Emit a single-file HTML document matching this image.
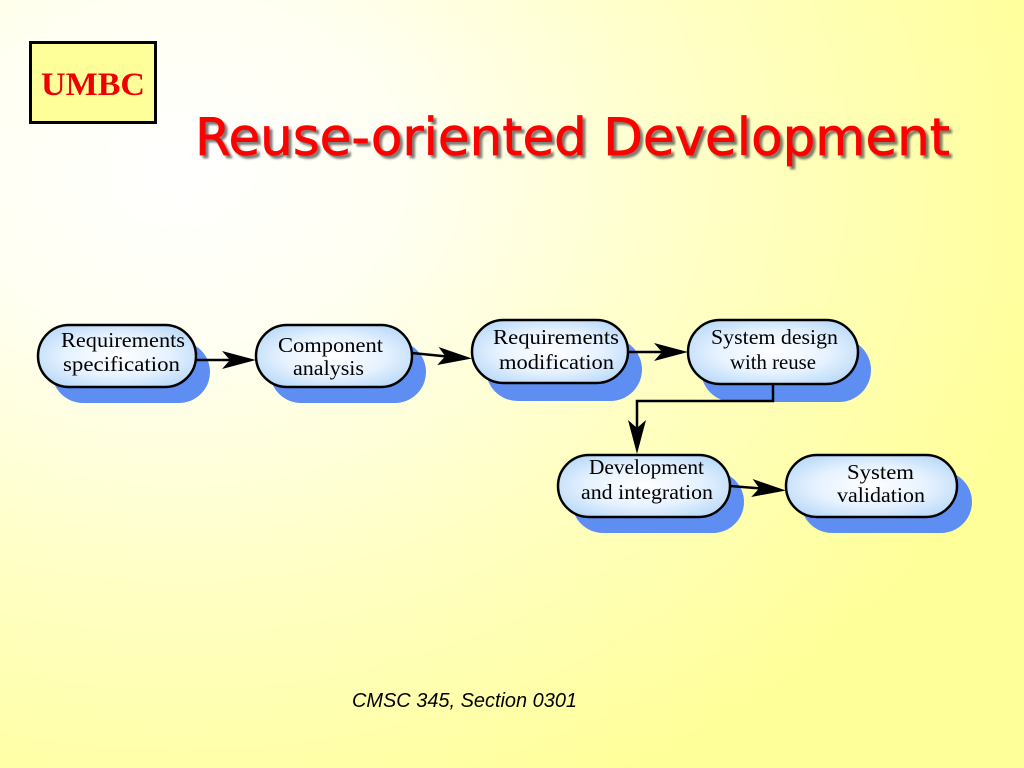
<!DOCTYPE html>
<html>
<head>
<meta charset="utf-8">
<style>
  html, body { margin:0; padding:0; }
  body { width:1024px; height:768px; overflow:hidden;
    background: radial-gradient(ellipse 900px 700px at 180px 170px, #ffffff 0%, #fffff2 25%, #ffffc4 60%, #ffff99 100%);
  }
  svg { position:absolute; left:0; top:0; }
</style>
</head>
<body>
<svg width="1024" height="768" viewBox="0 0 1024 768" xmlns="http://www.w3.org/2000/svg">
  <defs>
    <radialGradient id="nf" cx="50%" cy="50%" r="60%">
      <stop offset="0" stop-color="#ffffff"/>
      <stop offset="0.55" stop-color="#e6f2ff"/>
      <stop offset="1" stop-color="#b9d9f8"/>
    </radialGradient>
    <filter id="ts" x="-5%" y="-20%" width="110%" height="140%">
      <feGaussianBlur stdDeviation="1"/>
    </filter>
  </defs>

  <!-- UMBC box -->
  <rect x="30.5" y="42.5" width="125" height="80" fill="#ffff99" stroke="#000" stroke-width="3"/>
  <text x="41" y="95" font-family="'Liberation Serif', serif" font-weight="bold" font-size="33" fill="#ee0000" textLength="104" lengthAdjust="spacingAndGlyphs">UMBC</text>

  <!-- Title -->
  <text x="198" y="158" font-family="'DejaVu Sans', sans-serif" font-size="52" fill="#444" stroke="#444" stroke-width="0.7" opacity="0.7" filter="url(#ts)" textLength="755" lengthAdjust="spacingAndGlyphs">Reuse-oriented Development</text>
  <text x="195" y="155" font-family="'DejaVu Sans', sans-serif" font-size="52" fill="#ff0000" stroke="#ff0000" stroke-width="0.7" textLength="755" lengthAdjust="spacingAndGlyphs">Reuse-oriented Development</text>

  <!-- Shadows -->
  <g fill="#5f8ef2">
    <rect x="52" y="341" width="158" height="62" rx="31"/>
    <rect x="270" y="341" width="156" height="62" rx="31"/>
    <rect x="486" y="338" width="156" height="63" rx="31.5"/>
    <rect x="701" y="338" width="170" height="64" rx="32"/>
    <rect x="572" y="471" width="172" height="62" rx="31"/>
    <rect x="801" y="471" width="171" height="62" rx="31"/>
  </g>

  <!-- Nodes -->
  <g fill="url(#nf)" stroke="#000" stroke-width="2.5">
    <rect x="38" y="325" width="158" height="62" rx="31"/>
    <rect x="256" y="325" width="156" height="62" rx="31"/>
    <rect x="472" y="320" width="156" height="63" rx="31.5"/>
    <rect x="688" y="320" width="170" height="64" rx="32"/>
    <rect x="558" y="455" width="172" height="62" rx="31"/>
    <rect x="786" y="455" width="171" height="62" rx="31"/>
  </g>

  <!-- Node labels -->
  <g font-family="'Liberation Serif', serif" font-size="21" fill="#000">
    <text x="61" y="347" textLength="124" lengthAdjust="spacingAndGlyphs">Requirements</text>
    <text x="63" y="371" textLength="117" lengthAdjust="spacingAndGlyphs">specification</text>

    <text x="278" y="352" textLength="105" lengthAdjust="spacingAndGlyphs">Component</text>
    <text x="293" y="375" textLength="71" lengthAdjust="spacingAndGlyphs">analysis</text>

    <text x="493" y="344" textLength="126" lengthAdjust="spacingAndGlyphs">Requirements</text>
    <text x="499" y="369" textLength="115" lengthAdjust="spacingAndGlyphs">modification</text>

    <text x="711" y="344" textLength="127" lengthAdjust="spacingAndGlyphs">System design</text>
    <text x="730" y="369" textLength="86" lengthAdjust="spacingAndGlyphs">with reuse</text>

    <text x="589" y="474" textLength="115" lengthAdjust="spacingAndGlyphs">Development</text>
    <text x="581" y="499" textLength="132" lengthAdjust="spacingAndGlyphs">and integration</text>

    <text x="847" y="479" textLength="67" lengthAdjust="spacingAndGlyphs">System</text>
    <text x="837" y="502" textLength="88" lengthAdjust="spacingAndGlyphs">validation</text>
  </g>

  <!-- Connectors -->
  <g stroke="#000" stroke-width="2.5" fill="none">
    <line x1="196" y1="360" x2="236" y2="360"/>
    <line x1="412" y1="353" x2="452" y2="357"/>
    <line x1="628" y1="352" x2="670" y2="352"/>
    <polyline points="773,384 773,401 637,401 637,436"/>
    <line x1="730" y1="486" x2="768" y2="489"/>
  </g>
  <g fill="#000">
    <polygon points="256,360 222,351 230,360 222,369"/>
    <polygon points="472,358.5 438.6,347 445.3,356.2 437.2,365"/>
    <polygon points="688,352 654,343 662,352 654,361"/>
    <polygon points="637,454 628,420 637,428 646,420"/>
    <polygon points="786,490.5 752.6,479 759.3,488.2 751.2,497"/>
  </g>

  <!-- Footer -->
  <text x="352" y="707" font-family="'Liberation Sans', sans-serif" font-style="italic" font-size="20" fill="#000" textLength="225" lengthAdjust="spacingAndGlyphs">CMSC 345, Section 0301</text>
</svg>
</body>
</html>
